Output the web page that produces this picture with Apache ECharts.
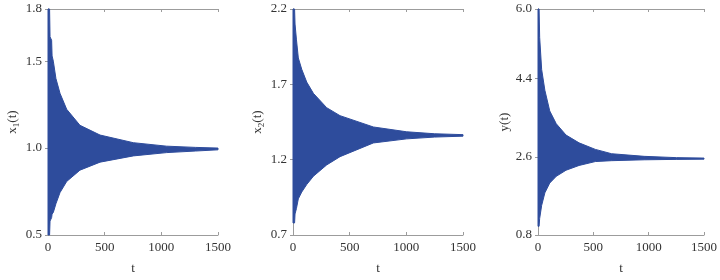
<!DOCTYPE html>
<html>
<head>
<meta charset="utf-8">
<script src="https://cdn.jsdelivr.net/npm/echarts@6/dist/echarts.min.js"></script>
<style>
  html, body { margin: 0; padding: 0; background: #fff; }
  #main { width: 720px; height: 280px; }
</style>
</head>
<body>
<div id="main"></div>
<script>
// envelopes of the oscillating series
var tX1 = [0, 14, 18, 32, 36, 47, 70, 106, 165, 282, 459, 753, 1047, 1300, 1500];
var x1Upper = [1.8, 1.8, 1.64, 1.62, 1.53, 1.50, 1.40, 1.315, 1.223, 1.131, 1.075, 1.031, 1.011, 1.004, 1.0];
var x1Lower = [0.5, 0.5, 0.58, 0.60, 0.62, 0.63, 0.68, 0.744, 0.808, 0.873, 0.919, 0.955, 0.974, 0.983, 0.99];

var tX2 = [0, 14, 18, 30, 47, 77, 121, 180, 297, 415, 709, 1003, 1250, 1500];
var x2Upper = [2.2, 2.2, 2.10, 2.0, 1.875, 1.80, 1.715, 1.64, 1.545, 1.492, 1.417, 1.385, 1.372, 1.366];
var x2Lower = [0.78, 0.78, 0.84, 0.875, 0.94, 0.985, 1.035, 1.09, 1.165, 1.22, 1.311, 1.338, 1.35, 1.356];

var tY = [0, 10, 15, 33, 62, 106, 165, 253, 371, 518, 665, 959, 1250, 1500];
var yUpper = [6.0, 6.0, 5.35, 4.61, 4.13, 3.655, 3.36, 3.10, 2.92, 2.77, 2.67, 2.61, 2.58, 2.57];
var yLower = [1.0, 1.0, 1.18, 1.48, 1.77, 1.995, 2.15, 2.29, 2.40, 2.49, 2.51, 2.53, 2.54, 2.545];

var tTicks = [0, 1500, 500];            // min, max, interval
var x1Ticks = [0.5, 1.8, 0.5];
var x2Ticks = [0.7, 2.2, 0.5];
var yTicks = [0.8, 6.0, 1.8];

var blue = "#2E4C9C";
var font = "'Liberation Serif', 'Times New Roman', serif";

var panels = [
  { t: tX1, up: x1Upper, lo: x1Lower, ticks: x1Ticks, name: "x{sub|1}(t)", left: 48 },
  { t: tX2, up: x2Upper, lo: x2Lower, ticks: x2Ticks, name: "x{sub|2}(t)", left: 293 },
  { t: tY, up: yUpper, lo: yLower, ticks: yTicks, name: "y(t)", left: 538 }
];

var chart = echarts.init(document.getElementById("main"));

var grid = [], xAxis = [], yAxis = [], series = [];
var axisLine = { show: true, lineStyle: { color: "#9c9c9c", width: 1 } };
var axisTick = { show: true, inside: true, length: 3, lineStyle: { color: "#9c9c9c" } };

// band between the lower and upper envelope, drawn through the axis scales
function bandRenderer(p) {
  return function (params, api) {
    if (params.dataIndex !== 0) return;
    var pts = [];
    for (var k = 0; k < p.t.length; k++) pts.push(api.coord([p.t[k], p.up[k]]));
    for (var j = p.t.length - 1; j >= 0; j--) pts.push(api.coord([p.t[j], p.lo[j]]));
    return {
      type: "polygon",
      shape: { points: pts },
      style: { fill: blue, stroke: blue, lineWidth: 1 }
    };
  };
}

panels.forEach(function (p, i) {
  grid.push({ left: p.left, width: 170, top: 9, height: 235 });

  // bottom and top x axes
  xAxis.push({
    type: "value", gridIndex: i, position: "bottom",
    min: tTicks[0], max: tTicks[1], interval: tTicks[2],
    axisLine: axisLine, axisTick: axisTick, splitLine: { show: false },
    axisLabel: {
      color: "#333", fontFamily: font, fontSize: 13, margin: 6,
      formatter: function (v) { return String(v); }
    },
    name: "t", nameLocation: "middle", nameGap: 27,
    nameTextStyle: { color: "#333", fontFamily: font, fontSize: 13 }
  });
  xAxis.push({
    type: "value", gridIndex: i, position: "top",
    min: tTicks[0], max: tTicks[1], interval: tTicks[2],
    axisLine: axisLine, axisTick: axisTick, splitLine: { show: false },
    axisLabel: { show: false }
  });

  // left and right y axes
  yAxis.push({
    type: "value", gridIndex: i, position: "left",
    min: p.ticks[0], max: p.ticks[1], interval: p.ticks[2],
    axisLine: axisLine, axisTick: axisTick, splitLine: { show: false },
    axisLabel: {
      color: "#333", fontFamily: font, fontSize: 13, margin: 6,
      formatter: function (v) { return v.toFixed(1); }
    },
    name: p.name, nameLocation: "middle", nameGap: 27,
    nameTextStyle: {
      color: "#333", fontFamily: font, fontSize: 13,
      rich: { sub: { fontFamily: font, fontSize: 9, color: "#333", padding: [7, 0, 0, 0] } }
    }
  });
  yAxis.push({
    type: "value", gridIndex: i, position: "right",
    min: p.ticks[0], max: p.ticks[1], interval: p.ticks[2],
    axisLine: axisLine, axisTick: axisTick, splitLine: { show: false },
    axisLabel: { show: false }
  });

  var pts = [];
  for (var k = 0; k < p.t.length; k++) pts.push([p.t[k], p.lo[k], p.up[k]]);
  series.push({
    type: "custom", xAxisIndex: i * 2, yAxisIndex: i * 2,
    coordinateSystem: "cartesian2d",
    data: pts, encode: { x: 0, y: [1, 2] },
    renderItem: bandRenderer(p), silent: true
  });
});

chart.setOption({
  animation: false,
  grid: grid,
  xAxis: xAxis,
  yAxis: yAxis,
  series: series
});
</script>
</body>
</html>
